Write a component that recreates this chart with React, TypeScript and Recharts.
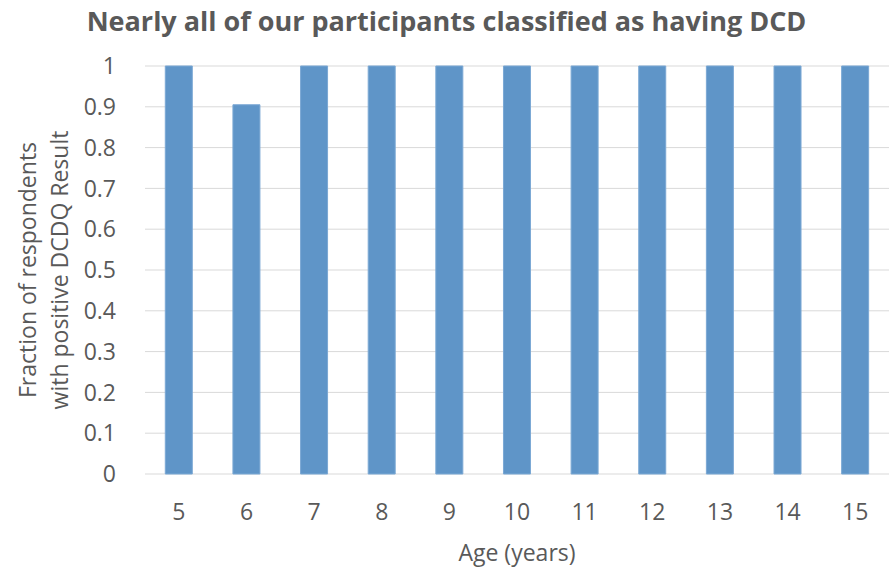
import React from 'react'
import { BarChart, Bar, XAxis, YAxis, CartesianGrid, Label } from 'recharts'

const ages = ['5', '6', '7', '8', '9', '10', '11', '12', '13', '14', '15']
const fractions = [1, 0.905, 1, 1, 1, 1, 1, 1, 1, 1, 1]
const yTicks = [0, 0.1, 0.2, 0.3, 0.4, 0.5, 0.6, 0.7, 0.8, 0.9, 1]

const data = ages.map((age, i) => ({ age, fraction: fractions[i] }))

const FONT = '"Open Sans", sans-serif'
const TEXT = '#595959'

function YTitle(props: any) {
  const vb = props.viewBox || {}
  const cy = vb.y + vb.height / 2
  return (
    <g fill={TEXT} fontFamily={FONT} fontSize={23} textAnchor="middle">
      <text transform={`translate(36, ${cy}) rotate(-90)`}>Fraction of respondents</text>
      <text transform={`translate(68, ${cy}) rotate(-90)`}>with positive DCDQ Result</text>
    </g>
  )
}

export default function App() {
  return (
    <div style={{ position: 'absolute', left: 0, top: 0, width: 893, height: 573, background: '#fff' }}>
      <div
        style={{
          position: 'absolute', left: 0, top: 2, width: 893, textAlign: 'center',
          fontFamily: FONT, fontWeight: 700, fontSize: 27, color: TEXT,
        }}
      >
        Nearly all of our participants classified as having DCD
      </div>
      <BarChart
        width={893}
        height={573}
        data={data}
        margin={{ top: 66, right: 4, bottom: 0, left: 0 }}
        barCategoryGap="30%"
      >
        <CartesianGrid vertical={false} stroke="#d9d9d9" />
        <XAxis
          dataKey="age"
          axisLine={false}
          tickLine={false}
          tickSize={0}
          tickMargin={30}
          tick={{ fill: TEXT, fontSize: 23, fontFamily: FONT }}
          height={99}
        >
          <Label
            value="Age (years)"
            position="insideBottom"
            offset={12}
            style={{ fill: TEXT, fontSize: 23, fontFamily: FONT }}
          />
        </XAxis>
        <YAxis
          domain={[0, 1]}
          ticks={yTicks}
          interval={0}
          axisLine={false}
          tickLine={false}
          tickSize={0}
          tickMargin={29}
          width={145}
          tick={{ fill: TEXT, fontSize: 23, fontFamily: FONT }}
        >
          <Label content={<YTitle />} />
        </YAxis>
        <Bar dataKey="fraction" fill="#5f95c8" stroke="#7ba8d4" strokeWidth={1} isAnimationActive={false} />
      </BarChart>
    </div>
  )
}
